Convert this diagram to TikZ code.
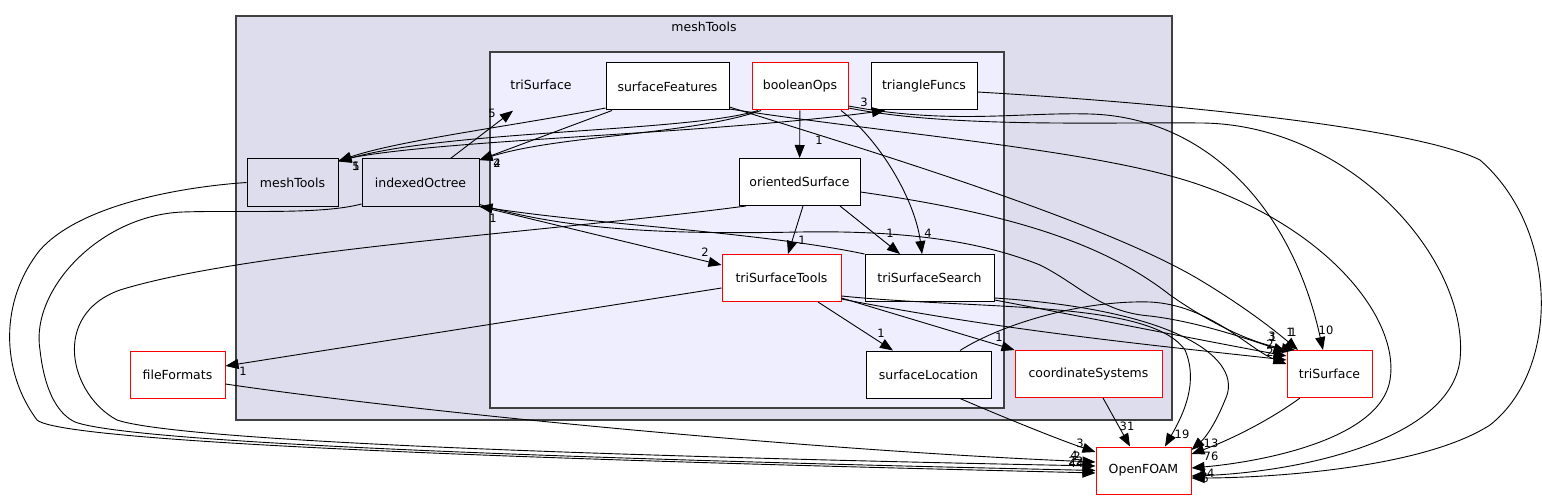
\documentclass[tikz,border=0pt]{standalone}
\usepackage{fontspec}
\setmainfont{DejaVu Sans}
\usetikzlibrary{arrows.meta}
\definecolor{clouter}{RGB}{221,221,238}
\definecolor{clinner}{RGB}{238,238,255}
\definecolor{clborder}{RGB}{64,64,64}
\newcommand{\dirfont}{\fontsize{12.5}{15}\selectfont}
\newcommand{\numfont}{\fontsize{11.5}{13}\selectfont}

\begin{document}
\begin{tikzpicture}[x=1pt, y=-1pt,
  dirnode/.style={draw, line width=1pt, fill=white, minimum height=47pt, inner sep=0pt, font=\dirfont},
  rednode/.style={dirnode, draw=red},
  subnode/.style={dirnode, fill=clouter},
  clbox/.style={draw=clborder, line width=1.2pt},
  dep/.style={-{Triangle[length=13pt,width=10pt]}, line width=0.9pt},
  lbl/.style={inner sep=0pt, font=\numfont}
]
\useasboundingbox (0,0) rectangle (1542,500);
% clusters
\draw[clbox, fill=clouter] (236,16) rectangle (1172,420);
\draw[clbox, fill=clinner] (490,52) rectangle (1004,408);
\node[font=\dirfont] (mtlbl) at (704,27) {meshTools};
\node[font=\dirfont, minimum width=90pt, minimum height=47pt] (tslbl) at (541,85) {triSurface};

% nodes inside triSurface
\node[dirnode, minimum width=123pt] (sfeat) at (667.5,86.5) {surfaceFeatures};
\node[rednode, minimum width=96pt] (bops) at (800,86.5) {booleanOps};
\node[dirnode, minimum width=106pt] (trif) at (924,86.5) {triangleFuncs};
\node[dirnode, minimum width=121pt] (osurf) at (799.5,182) {orientedSurface};
\node[rednode, minimum width=119pt] (tstools) at (781.5,278) {triSurfaceTools};
\node[dirnode, minimum width=129pt] (tssearch) at (929.5,278) {triSurfaceSearch};
\node[dirnode, minimum width=125pt] (sloc) at (928.5,374.5) {surfaceLocation};
% nodes inside meshTools
\node[subnode, minimum width=91pt] (mtools) at (292.5,182.5) {meshTools};
\node[subnode, minimum width=117pt] (ioct) at (420.5,182.5) {indexedOctree};
\node[rednode, minimum width=147pt] (csys) at (1088.5,374) {coordinateSystems};
% outside
\node[rednode, minimum width=95pt] (fformats) at (177.5,374.5) {fileFormats};
\node[rednode, minimum width=85pt] (trisurf) at (1329.5,374) {triSurface};
\node[rednode, minimum width=95pt] (ofoam) at (1143.5,470.5) {OpenFOAM};

% dependencies
\draw[dep] ([xshift=30pt]ioct.north) -- ([xshift=-28pt,yshift=-2pt]tslbl.south);
\draw[dep] ([yshift=-21.5pt]sfeat.west) .. controls (520,125) and (400,140) .. ([yshift=21.5pt]mtools.east);
\draw[dep] ([xshift=-55.5pt]sfeat.south) -- ([yshift=22.5pt]ioct.east);
\draw[dep] ([xshift=-42pt]bops.south) .. controls (690,132) and (450,130) .. ([yshift=21pt]mtools.east);
\draw[dep] ([xshift=-39pt]bops.south) .. controls (690,135) and (560,135) .. ([yshift=22.5pt]ioct.east);
\draw[dep] ([yshift=22pt]mtools.east) .. controls (420,140) and (700,135) .. ([xshift=-39pt]trif.south);
\draw[dep] (bops) -- (osurf);
\draw[dep] ([xshift=41pt]bops.south) .. controls (880,140) and (915,200) .. ([xshift=-7.5pt]tssearch.north);
\draw[dep] ([yshift=-19.5pt]bops.east) .. controls (950,125) and (1020,112) .. (1090,114)
  .. controls (1200,117) and (1290,200) .. ([xshift=-6.5pt]trisurf.north);
\draw[dep] ([yshift=-21.5pt]bops.east) .. controls (950,128) and (1100,122) .. (1201,123)
  .. controls (1350,124) and (1470,260) .. (1460,360)
  .. controls (1450,440) and (1300,472) .. ([yshift=-5.5pt]ofoam.east);
\draw[dep] ([yshift=-5.5pt]trif.east) .. controls (1200,105) and (1420,130) .. (1480,160)
  .. controls (1560,230) and (1560,370) .. (1490,425)
  .. controls (1420,470) and (1260,478) .. ([yshift=-7.5pt]ofoam.east);
\draw[dep] ([yshift=-20.5pt]sfeat.east) .. controls (860,148) and (1100,220) .. (1200,280)
  .. controls (1250,310) and (1280,335) .. ([xshift=-31.5pt]trisurf.north);
\draw[dep] ([yshift=-22.5pt]sfeat.east) .. controls (900,135) and (1100,150) .. (1200,185)
  .. controls (1330,230) and (1400,320) .. (1390,380)
  .. controls (1380,440) and (1260,462) .. ([yshift=2.5pt]ofoam.east);
\draw[dep] ([xshift=-53.5pt]osurf.south) .. controls (550,232) and (250,250) .. (120,290)
  .. controls (50,315) and (70,395) .. (117,420)
  .. controls (200,448) and (900,462) .. ([yshift=4.5pt]ofoam.west);
\draw[dep] ([yshift=-21.5pt]ioct.west) .. controls (320,215) and (240,210) .. (183,212)
  .. controls (100,215) and (30,290) .. (40,350)
  .. controls (45,395) and (60,415) .. (75,422)
  .. controls (150,450) and (900,466) .. (ofoam.west);
\draw[dep] (mtools.west) .. controls (180,187) and (80,205) .. (40,250)
  .. controls (0,300) and (0,370) .. (37,420)
  .. controls (70,450) and (900,468) .. ([yshift=-2.5pt]ofoam.west);
\draw[dep] ([yshift=-9.5pt]fformats.east) .. controls (400,410) and (800,450) .. ([yshift=8.5pt]ofoam.west);
\draw[dep] ([xshift=31.5pt]sloc.south) .. controls (1010,420) and (1060,440) .. ([yshift=18.5pt]ofoam.west);
\draw[dep] ([xshift=31.5pt]sloc.north) .. controls (1000,325) and (1080,300) .. (1150,302)
  .. controls (1210,305) and (1250,350) .. ([yshift=10pt]trisurf.west);
\draw[dep] ([yshift=-10pt]tstools.west) -- ([yshift=8.5pt]fformats.east);
\draw[dep] ([xshift=36.5pt]tstools.south) -- ([xshift=-35.5pt]sloc.north);
\draw[dep] ([yshift=-20pt]tstools.east) -- (csys.north west);
\draw[dep] ([yshift=-21pt]tstools.east) .. controls (1000,330) and (1150,345) .. ([yshift=14pt]trisurf.west);
\draw[dep] ([yshift=-18pt]tstools.east) .. controls (980,310) and (1150,300) .. (1185,350)
  .. controls (1200,385) and (1180,420) .. ([xshift=21.5pt]ofoam.north);
\draw[dep] ([yshift=-20pt]tssearch.east) .. controls (1180,310) and (1245,360) .. (1225,400)
  .. controls (1215,425) and (1205,438) .. ([yshift=20.5pt]ofoam.east);
\draw[dep] ([yshift=-22pt]tssearch.east) .. controls (1100,320) and (1200,340) .. ([yshift=18pt]trisurf.west);
\draw[dep] (tssearch.north west) .. controls (760,232) and (600,225) .. (ioct.south east);
\draw[dep] (ioct.south east) -- ([yshift=13pt]tstools.west);
\draw[dep] ([yshift=-22pt]ioct.east) .. controls (560,228) and (650,235) .. (800,232)
  .. controls (920,230) and (990,245) .. (1040,265)
  .. controls (1080,285) and (1100,312) .. (1150,316)
  .. controls (1200,322) and (1250,340) .. ([yshift=22pt]trisurf.west);
\draw[dep] ([yshift=-10pt]osurf.east) .. controls (1000,212) and (1100,240) .. (1170,295)
  .. controls (1220,330) and (1260,345) .. ([xshift=-34.5pt]trisurf.north);
\draw[dep] ([xshift=3.5pt]osurf.south) -- ([xshift=6.5pt]tstools.north);
\draw[dep] ([xshift=40.5pt]osurf.south) -- ([xshift=-29.5pt]tssearch.north);
\draw[dep] ([xshift=14.5pt]csys.south) -- ([xshift=-13.5pt]ofoam.north);
\draw[dep] ([xshift=-29.5pt]trisurf.south) .. controls (1270,420) and (1230,440) .. ([yshift=16.5pt]ofoam.east);

% edge counts
\node[lbl] (n1) at (492,113) {5};
\node[lbl] (n2) at (356,166) {5};
\node[lbl] (n3) at (356,166) {1};
\node[lbl] (n4) at (497,163) {2};
\node[lbl] (n5) at (497,163) {4};
\node[lbl] (n6) at (864,102) {3};
\node[lbl] (n7) at (819,140) {1};
\node[lbl] (n8) at (928,233) {4};
\node[lbl] (n9) at (1326,330) {10};
\node[lbl] (n10) at (1290,332) {1};
\node[lbl] (n11) at (1293,332) {1};
\node[lbl] (n12) at (1272,336) {3};
\node[lbl] (n13) at (1273,337) {1};
\node[lbl] (n14) at (1270,344) {2};
\node[lbl] (n15) at (1270,352) {2};
\node[lbl] (n16) at (493,218) {1};
\node[lbl] (n17) at (705,252) {2};
\node[lbl] (n18) at (802,240) {1};
\node[lbl] (n19) at (890,233) {1};
\node[lbl] (n20) at (243,371) {1};
\node[lbl] (n21) at (881,333) {1};
\node[lbl] (n22) at (999,337) {1};
\node[lbl] (n23) at (1127,426) {31};
\node[lbl] (n24) at (1182,434) {19};
\node[lbl] (n25) at (1211,443) {13};
\node[lbl] (n26) at (1211,456) {76};
\node[lbl] (n27) at (1080,443) {3};
\node[lbl] (n28) at (1074,455) {4};
\node[lbl] (n29) at (1077,456) {2};
\node[lbl] (n30) at (1076,461) {22};
\node[lbl] (n31) at (1076,463) {44};
\node[lbl] (n32) at (1207,473) {64};
\node[lbl] (n33) at (1205,478) {6};
\end{tikzpicture}
\end{document}
